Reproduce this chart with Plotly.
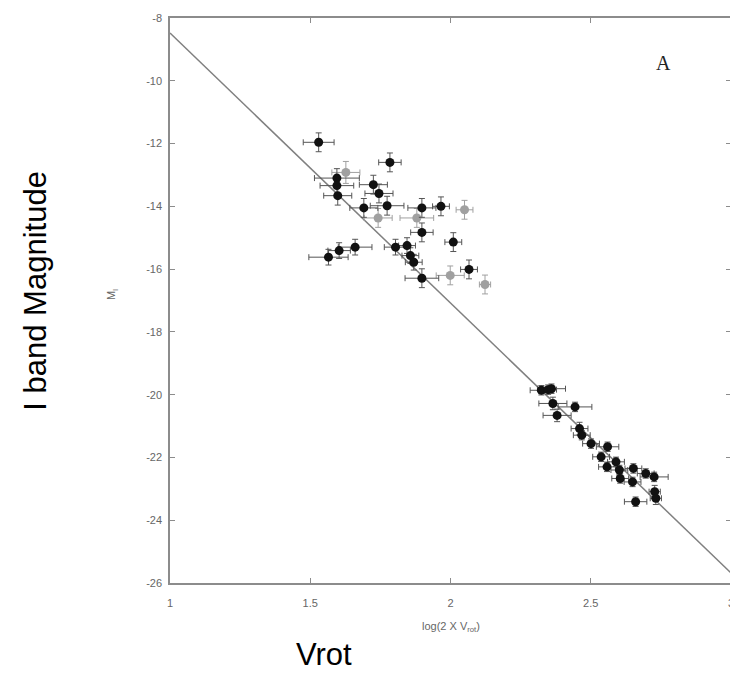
import plotly.graph_objects as go

# Black (filled) points: log(2 X Vrot), M_I, x error, y error
black_x = [1.53, 1.784, 1.595, 1.595, 1.598, 1.725, 1.745, 1.691, 1.774, 1.898, 1.966, 1.898,
           2.01, 1.804, 1.845, 1.857, 1.869, 1.66, 1.603, 1.565, 1.898, 2.066,
           2.324, 2.348, 2.36, 2.365, 2.444, 2.38, 2.46, 2.468, 2.501, 2.56, 2.537, 2.558,
           2.59, 2.602, 2.605, 2.652, 2.649, 2.696, 2.726, 2.728, 2.732, 2.66]
black_y = [-11.96, -12.6, -13.1, -13.34, -13.66, -13.31, -13.59, -14.05, -13.98, -14.05, -14.0, -14.83,
           -15.14, -15.3, -15.25, -15.57, -15.78, -15.3, -15.41, -15.62, -16.29, -16.01,
           -19.86, -19.84, -19.81, -20.28, -20.39, -20.66, -21.08, -21.29, -21.56, -21.66, -21.98, -22.3,
           -22.14, -22.4, -22.67, -22.35, -22.78, -22.51, -22.62, -23.09, -23.3, -23.41]
black_xerr = [0.055, 0.04, 0.08, 0.06, 0.05, 0.05, 0.05, 0.05, 0.06, 0.05, 0.03, 0.04,
              0.03, 0.04, 0.03, 0.03, 0.03, 0.06, 0.04, 0.07, 0.06, 0.03,
              0.04, 0.03, 0.05, 0.05, 0.06, 0.05, 0.03, 0.03, 0.03, 0.04, 0.03, 0.03,
              0.03, 0.03, 0.03, 0.03, 0.03, 0.03, 0.05, 0.02, 0.02, 0.04]
black_yerr = [0.3, 0.3, 0.3, 0.3, 0.3, 0.3, 0.3, 0.3, 0.3, 0.3, 0.3, 0.3,
              0.3, 0.25, 0.25, 0.25, 0.25, 0.25, 0.25, 0.25, 0.3, 0.3,
              0.15, 0.15, 0.15, 0.2, 0.15, 0.2, 0.2, 0.15, 0.15, 0.15, 0.15, 0.15,
              0.15, 0.15, 0.15, 0.15, 0.15, 0.15, 0.15, 0.2, 0.2, 0.15]

# Gray points
gray_x = [1.627, 1.742, 1.88, 2.05, 1.999, 2.123]
gray_y = [-12.92, -14.37, -14.37, -14.11, -16.2, -16.49]
gray_xerr = [0.05, 0.05, 0.06, 0.03, 0.05, 0.02]
gray_yerr = [0.35, 0.3, 0.3, 0.3, 0.3, 0.3]

# Fitted relation endpoints
line_x = [1.0, 3.0]
line_y = [-8.48, -25.68]

x_ticks = [1, 1.5, 2, 2.5, 3]
x_tick_text = ["1", "1.5", "2", "2.5", "3"]
y_ticks = [-8, -10, -12, -14, -16, -18, -20, -22, -24, -26]
y_tick_text = ["-8", "-10", "-12", "-14", "-16", "-18", "-20", "-22", "-24", "-26"]

fig = go.Figure()
fig.add_trace(go.Scatter(x=line_x, y=line_y, mode="lines",
                         line=dict(color="#808080", width=1.5), showlegend=False))
fig.add_trace(go.Scatter(
    x=gray_x, y=gray_y, mode="markers",
    marker=dict(color="#a0a0a0", size=9),
    error_x=dict(type="data", array=gray_xerr, color="#a0a0a0", thickness=1, width=3),
    error_y=dict(type="data", array=gray_yerr, color="#a0a0a0", thickness=1, width=3),
    showlegend=False))
fig.add_trace(go.Scatter(
    x=black_x, y=black_y, mode="markers",
    marker=dict(color="#111111", size=9),
    error_x=dict(type="data", array=black_xerr, color="#555555", thickness=1, width=3),
    error_y=dict(type="data", array=black_yerr, color="#555555", thickness=1, width=3),
    showlegend=False))

axis_common = dict(showgrid=False, zeroline=False, showline=True, linecolor="#8c8c8c",
                   linewidth=1.5, mirror="ticks", ticks="inside", ticklen=5,
                   tickcolor="#8c8c8c",
                   tickfont=dict(family="Liberation Sans, Arial", size=11, color="#666666"))

fig.update_layout(
    width=730, height=670,
    margin=dict(l=162, r=4, t=9, b=95),
    paper_bgcolor="white", plot_bgcolor="white",
    xaxis=dict(range=[1, 3], tickvals=x_ticks, ticktext=x_tick_text,
               ticklabelstandoff=9, **axis_common),
    yaxis=dict(range=[-26, -8], tickvals=y_ticks, ticktext=y_tick_text,
               ticklabelstandoff=4, **axis_common),
    annotations=[
        dict(text="A", x=0.88, y=0.92, xref="paper", yref="paper", showarrow=False,
             xanchor="center", yanchor="middle",
             font=dict(family="Liberation Serif, Times New Roman", size=20, color="#222")),
        dict(text="log(2 X V<sub>rot</sub>)", x=0.50, y=-0.078, xref="paper", yref="paper",
             showarrow=False, xanchor="center", yanchor="middle",
             font=dict(family="Liberation Sans, Arial", size=11, color="#666666")),
        dict(text="M<sub>I</sub>", x=-0.103, y=0.51, xref="paper", yref="paper",
             showarrow=False, textangle=-90, xanchor="center", yanchor="middle",
             font=dict(family="Liberation Sans, Arial", size=11, color="#666666")),
        dict(text="I band Magnitude", x=-0.24, y=0.518, xref="paper", yref="paper",
             showarrow=False, textangle=-90, xanchor="center", yanchor="middle",
             font=dict(family="Liberation Sans, Arial", size=31, color="black")),
        dict(text="Vrot", x=0.275, y=-0.127, xref="paper", yref="paper",
             showarrow=False, xanchor="center", yanchor="middle",
             font=dict(family="Liberation Sans, Arial", size=31, color="black")),
    ],
)

fig.write_html("out.html")
